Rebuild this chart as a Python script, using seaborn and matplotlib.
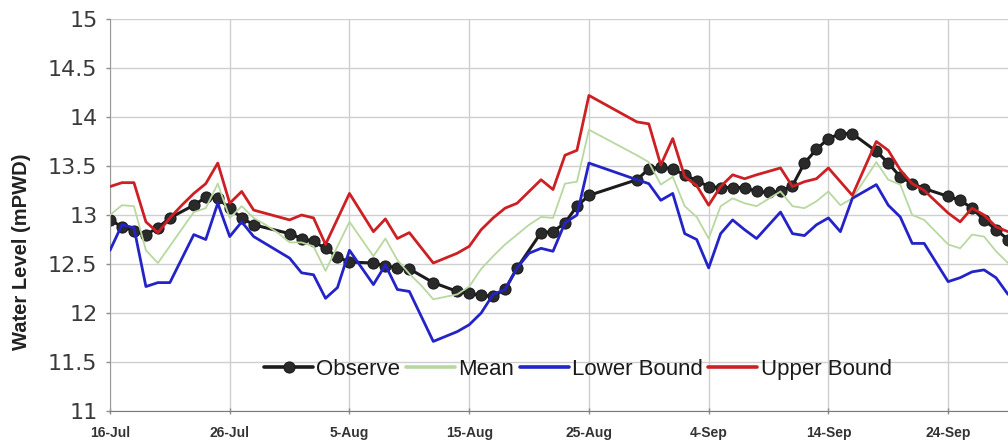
import matplotlib
matplotlib.use("Agg")
import matplotlib.pyplot as plt
from matplotlib import font_manager
from matplotlib.ticker import FixedLocator, FuncFormatter
import seaborn as sns
import pandas as pd

# ---- data -------------------------------------------------------------
start = pd.Timestamp("2012-07-16")

obs_days = [0, 1, 2, 3, 4, 5, 7, 8, 9, 10, 11, 12, 15, 16, 17, 18, 19, 20, 22, 23,
            24, 25, 27, 29, 30, 31, 32, 33, 34, 36, 37, 38, 39, 40, 44, 45, 46, 47,
            48, 49, 50, 51, 52, 53, 54, 55, 56, 57, 58, 59, 60, 61, 62, 64, 65, 66,
            67, 68, 70, 71, 72, 73, 74, 75]
obs_vals = [12.95, 12.88, 12.84, 12.80, 12.87, 12.97, 13.10, 13.18, 13.17, 13.07,
            12.97, 12.90, 12.81, 12.76, 12.73, 12.66, 12.57, 12.52, 12.51, 12.48,
            12.46, 12.45, 12.31, 12.22, 12.20, 12.18, 12.17, 12.24, 12.46, 12.82,
            12.83, 12.92, 13.09, 13.20, 13.36, 13.47, 13.49, 13.47, 13.41, 13.35,
            13.29, 13.28, 13.28, 13.28, 13.24, 13.23, 13.24, 13.30, 13.53, 13.67,
            13.78, 13.83, 13.83, 13.65, 13.53, 13.39, 13.32, 13.27, 13.19, 13.15,
            13.07, 12.95, 12.85, 12.75]

mean_days = [0, 1, 2, 3, 4, 7, 8, 9, 10, 11, 12, 13, 14, 15, 16, 17, 18, 20, 22, 23,
             24, 25, 26, 27, 29, 30, 31, 32, 33, 34, 35, 36, 37, 38, 39, 40, 44, 45,
             46, 47, 48, 49, 50, 51, 52, 53, 54, 56, 57, 58, 59, 60, 61, 62, 64, 65,
             66, 67, 68, 70, 71, 72, 73, 74, 75]
mean_vals = [13.00, 13.10, 13.09, 12.64, 12.51, 13.03, 13.07, 13.32, 12.97, 13.09,
             12.97, 12.90, 12.82, 12.72, 12.72, 12.68, 12.43, 12.93, 12.58, 12.76,
             12.54, 12.40, 12.28, 12.14, 12.19, 12.27, 12.45, 12.58, 12.70, 12.80,
             12.90, 12.98, 12.97, 13.32, 13.34, 13.87, 13.61, 13.54, 13.31, 13.39,
             13.09, 12.98, 12.76, 13.09, 13.17, 13.12, 13.09, 13.24, 13.09, 13.07,
             13.14, 13.24, 13.10, 13.17, 13.54, 13.36, 13.31, 13.00, 12.95, 12.70,
             12.66, 12.80, 12.78, 12.63, 12.51]

low_days = [0, 1, 2, 3, 4, 5, 7, 8, 9, 10, 11, 12, 15, 16, 17, 18, 19, 20, 22, 23,
            24, 25, 27, 29, 30, 31, 32, 33, 34, 35, 36, 37, 38, 39, 40, 44, 45, 46,
            47, 48, 49, 50, 51, 52, 53, 54, 56, 57, 58, 59, 60, 61, 62, 64, 65, 66,
            67, 68, 70, 71, 72, 73, 74, 75]
low_vals = [12.64, 12.90, 12.87, 12.27, 12.31, 12.31, 12.80, 12.75, 13.12, 12.78,
            12.93, 12.78, 12.56, 12.41, 12.39, 12.15, 12.26, 12.64, 12.29, 12.49,
            12.24, 12.22, 11.71, 11.81, 11.88, 12.00, 12.19, 12.24, 12.46, 12.61,
            12.66, 12.63, 12.92, 13.00, 13.53, 13.36, 13.32, 13.15, 13.22, 12.81,
            12.75, 12.46, 12.81, 12.95, 12.85, 12.76, 13.03, 12.81, 12.79, 12.90,
            12.97, 12.83, 13.17, 13.31, 13.10, 12.98, 12.71, 12.71, 12.32, 12.36,
            12.42, 12.44, 12.36, 12.19]

up_days = [0, 1, 2, 3, 4, 5, 6, 7, 8, 9, 10, 11, 12, 15, 16, 17, 18, 20, 22, 23,
           24, 25, 27, 29, 30, 31, 32, 33, 34, 36, 37, 38, 39, 40, 44, 45, 46, 47,
           48, 49, 50, 51, 52, 53, 54, 56, 57, 58, 59, 60, 62, 64, 65, 66, 67, 68,
           70, 71, 72, 73, 74, 75]
up_vals = [13.29, 13.33, 13.33, 12.93, 12.82, 12.97, 13.10, 13.22, 13.32, 13.53,
           13.12, 13.24, 13.05, 12.95, 13.00, 12.97, 12.70, 13.22, 12.83, 12.96,
           12.76, 12.82, 12.51, 12.61, 12.68, 12.85, 12.97, 13.07, 13.12, 13.36,
           13.26, 13.61, 13.66, 14.22, 13.95, 13.93, 13.51, 13.78, 13.39, 13.30,
           13.10, 13.29, 13.41, 13.37, 13.41, 13.48, 13.29, 13.34, 13.37, 13.48,
           13.20, 13.75, 13.66, 13.46, 13.32, 13.25, 13.02, 12.93, 13.07, 13.00,
           12.88, 12.83]

y_ticks = [11, 11.5, 12, 12.5, 13, 13.5, 14, 14.5, 15]
x_tick_days = [0, 10, 20, 30, 40, 50, 60, 70]


def frame(days, vals):
    return pd.DataFrame({"date": start + pd.to_timedelta(days, unit="D"),
                         "level": vals})


# ---- style --------------------------------------------------------------
sns.set_style("whitegrid", {"grid.color": "#cfcfcf", "axes.edgecolor": "#8c8c8c"})
installed = {f.name for f in font_manager.fontManager.ttflist}
narrow = "Liberation Sans Narrow" if "Liberation Sans Narrow" in installed else "Liberation Sans"
plt.rcParams["font.family"] = ["Liberation Sans", "DejaVu Sans"]

fig = plt.figure(figsize=(10.08, 4.47), dpi=100)
ax = fig.add_axes([110 / 1008, 36 / 447, 898 / 1008, 392 / 447])

sns.lineplot(data=frame(obs_days, obs_vals), x="date", y="level", ax=ax,
             color="#1c1c1c", linewidth=2.2, marker="o", markersize=8,
             markerfacecolor="#2a2a2a", markeredgecolor="#1a1a1a",
             label="Observe", zorder=2)
sns.lineplot(data=frame(mean_days, mean_vals), x="date", y="level", ax=ax,
             color="#b9d8a0", linewidth=1.3, label="Mean", zorder=3)
sns.lineplot(data=frame(low_days, low_vals), x="date", y="level", ax=ax,
             color="#2323c8", linewidth=2.0, label="Lower Bound", zorder=4)
sns.lineplot(data=frame(up_days, up_vals), x="date", y="level", ax=ax,
             color="#cc2024", linewidth=2.0, label="Upper Bound", zorder=5)

# ---- axes ---------------------------------------------------------------
ax.set_ylim(11, 15)
ax.set_xlim(start, start + pd.Timedelta(days=75))
ax.yaxis.set_major_locator(FixedLocator(y_ticks))
ax.yaxis.set_major_formatter(FuncFormatter(lambda v, _: f"{v:g}"))
tick_dates = [start + pd.Timedelta(days=d) for d in x_tick_days]
ax.set_xticks(tick_dates)
ax.set_xticklabels([f"{d.day}-{d.strftime('%b')}" for d in tick_dates],
                   fontfamily=narrow, fontsize=10, fontweight="bold",
                   color="#333333")
for lab in ax.get_yticklabels():
    lab.set_fontfamily("DejaVu Sans")
ax.tick_params(axis="y", labelsize=16, colors="#3a3a3a", length=3,
               width=1, direction="out", pad=6, left=True, color="#8c8c8c")
ax.tick_params(axis="x", length=5, width=1, direction="inout", pad=8,
               bottom=True, color="#8c8c8c")
ax.grid(True, color="#cfcfcf", linewidth=1.0)
for side in ("top", "right"):
    ax.spines[side].set_visible(False)
ax.spines["left"].set_color("#9a9a9a")
ax.spines["bottom"].set_color("#7a7a7a")

ax.set_xlabel("")
ax.set_ylabel("Water Level (mPWD)", fontsize=14.5, fontweight="bold",
              color="#222222")
ax.yaxis.set_label_coords(-79 / 898, 0.406)

leg = ax.legend(loc="center", bbox_to_anchor=(0.521, 0.107), ncol=4,
                frameon=False, handlelength=2.2, handletextpad=0.15,
                columnspacing=0.25, prop={"family": narrow, "size": 16})
for line in leg.get_lines():
    line.set_linewidth(2.6)
for text in leg.get_texts():
    text.set_color("#1a1a1a")

fig.savefig("out.png", dpi=100)
